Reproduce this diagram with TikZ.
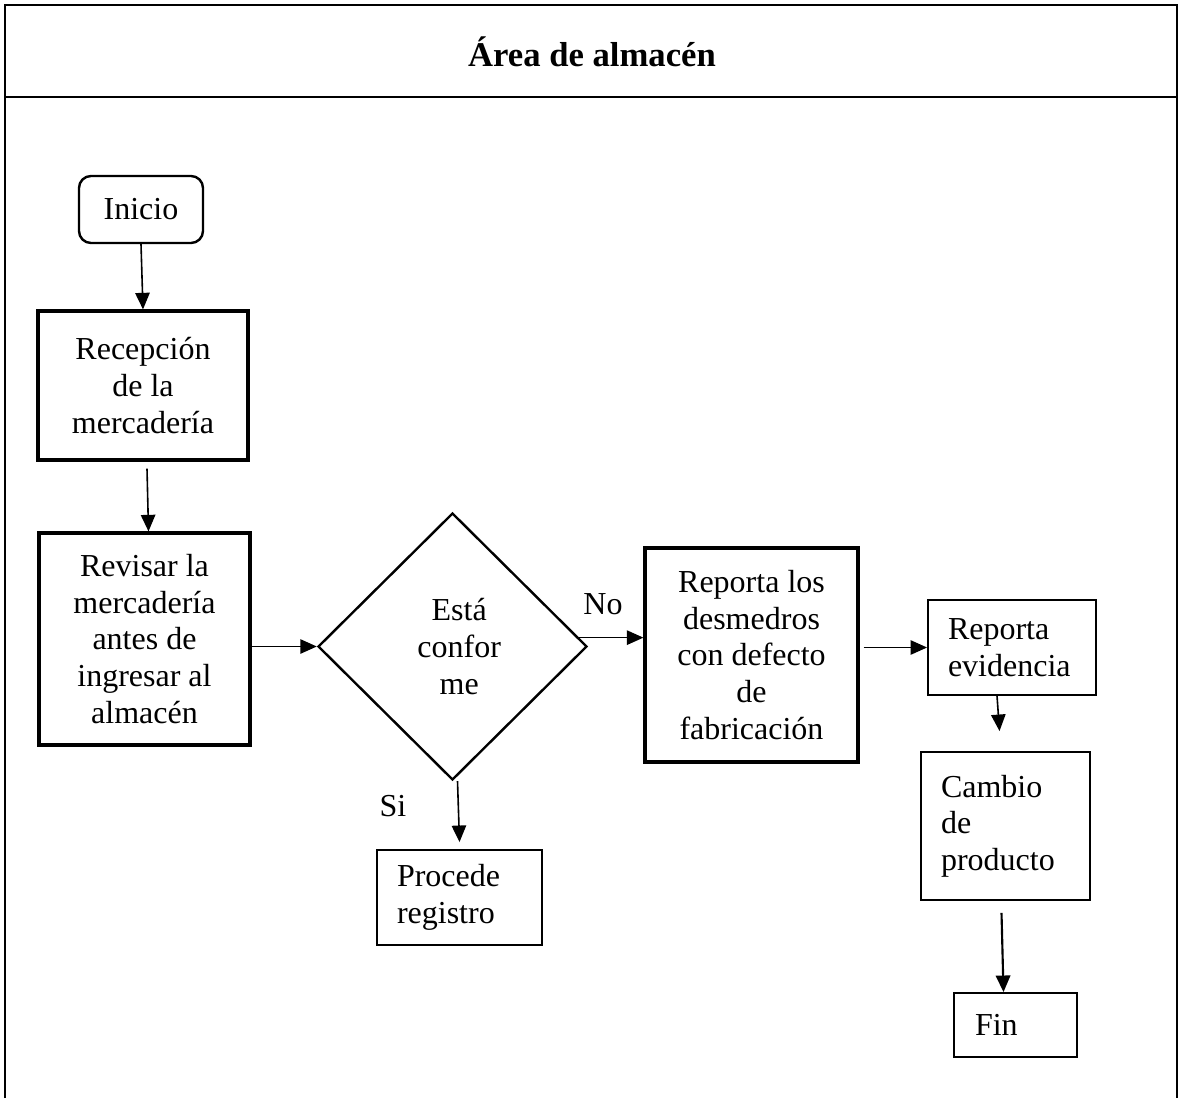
\documentclass[tikz,border=0pt]{standalone}
\usepackage{fontspec}
\setmainfont{Liberation Serif}
\usetikzlibrary{shapes.geometric,arrows.meta}

\begin{document}
\begin{tikzpicture}[x=0.375pt,y=-0.375pt,
	font=\fontsize{12}{13.7}\selectfont,
	caja/.style={draw, line width=0.7pt, inner sep=0pt, align=center},
	cajagruesa/.style={caja, line width=1.2pt},
	cajaizq/.style={draw, line width=0.7pt, inner ysep=0pt, inner xsep=20*\px, align=left},
	flecha/.style={-{Triangle[length=6.2pt,width=5.4pt]}, line width=0.6pt}]
			\def\px{0.375pt}
			\useasboundingbox (0,0) rectangle (1182,1098);
			% marco
			\draw[line width=0.9pt] (5,1098) -- (5,5) -- (1177,5) -- (1177,1098);
			\draw[line width=0.9pt] (5,97) -- (1177,97);
			\node[font=\bfseries\fontsize{13}{15}\selectfont] (titulo) at (592,52) {Área de almacén};
			% pasos
			\node[caja, rounded corners=4.5pt, line width=0.9pt, minimum width=124*\px, minimum height=67*\px] (inicio) at (141,209.5) {Inicio};
			\node[cajagruesa, minimum width=210*\px, minimum height=149*\px] (recepcion) at (143,385.5) {Recepción\\de la\\mercadería};
			\node[cajagruesa, minimum width=211*\px, minimum height=212*\px] (revisar) at (144.5,639) {Revisar la\\mercadería\\antes de\\ingresar al\\almacén};
			\node[caja, diamond, line width=0.9pt, minimum width=269*\px, minimum height=267*\px] (conforme) at (452.5,646.5) {\hspace*{5pt}Está\\\hspace*{5pt}confor\\\hspace*{5pt}me};
			\node[cajagruesa, minimum width=213*\px, minimum height=214*\px] (desmedros) at (751.5,655) {Reporta los\\desmedros\\con defecto\\de\\fabricación};
			\node[cajaizq, text width=128*\px, minimum height=95*\px] (evidencia) at (1012,647.5) {Reporta\\evidencia};
			\node[cajaizq, text width=129*\px, minimum height=148*\px] (cambio) at (1005.5,826) {Cambio\\de\\producto};
			\node[cajaizq, text width=125*\px, minimum height=95*\px] (procede) at (459.5,897.5) {Procede\\registro};
			\node[cajaizq, inner xsep=21*\px, text width=81*\px, minimum height=64*\px] (fin) at (1015.5,1025) {Fin};
			\node (no) at (603,604) {No};
			\node (si) at (393,806) {Si};
			% flechas
			\draw[flecha] (inicio.south) -- (recepcion.north);
			\draw[flecha] ([xshift=4*\px, yshift=-7*\px]recepcion.south) -- ([xshift=4*\px]revisar.north);
			\draw[flecha] (revisar.east |- conforme.west) -- (conforme.west);
			\draw[flecha] (conforme.4) -- (conforme.4 -| desmedros.west);
			\draw[flecha] ([xshift=4*\px]desmedros.east |- evidencia.west) -- (evidencia.west);
			\draw[flecha] ([xshift=-15*\px]evidencia.south) -- ([xshift=-6*\px, yshift=20*\px]cambio.north);
			\draw[flecha, line width=0.8pt] ([xshift=-4*\px, yshift=-12*\px]cambio.south) -- ([xshift=-12*\px]fin.north);
			\draw[flecha] ([xshift=5*\px]conforme.south) -- ([yshift=7*\px]procede.north);
\end{tikzpicture}
\end{document}
